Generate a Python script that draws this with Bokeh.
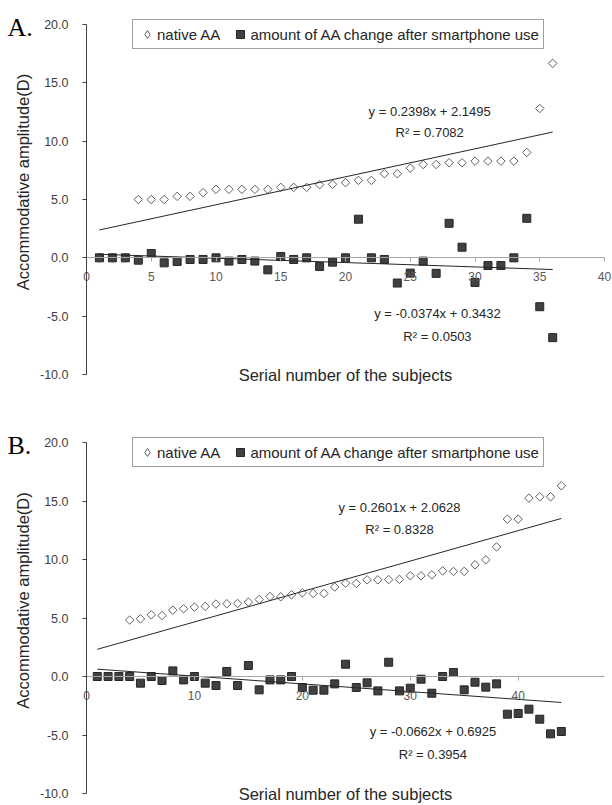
import numpy as np
from bokeh.plotting import figure
from bokeh.models import (Range1d, FixedTicker, NumeralTickFormatter, Label,
                          Legend, LegendItem)
from bokeh.layouts import column
from bokeh.embed import file_html
from bokeh.resources import INLINE

# ---------------- data ----------------
# Panel A (36 subjects)
a_subject = list(range(1, 37))
a_native = [0, 0, 0, 5.0, 5.0, 5.0, 5.27, 5.27, 5.59, 5.87, 5.87, 5.87, 5.87, 5.87,
            6.04, 6.04, 6.04, 6.27, 6.3, 6.44, 6.64, 6.64, 7.21, 7.21, 7.69, 8.0,
            8.0, 8.15, 8.15, 8.29, 8.29, 8.29, 8.29, 9.03, 12.8, 16.67]
a_change = [0, 0, 0, -0.2, 0.37, -0.43, -0.31, -0.14, -0.14, 0, -0.28, -0.14, -0.28,
            -1.03, 0.11, -0.14, 0, -0.74, -0.37, 0, 3.31, 0, -0.14, -2.16, -1.31,
            -0.28, -1.33, 2.96, 0.91, -2.11, -0.66, -0.66, 0, 3.39, -4.19, -6.84]
a_native_fit = [0.2398, 2.1495, 0.7082]     # slope, intercept, R^2
a_change_fit = [-0.0374, 0.3432, 0.0503]
a_x_ticks = [0, 5, 10, 15, 20, 25, 30, 35, 40]

# Panel B (44 subjects)
b_subject = list(range(1, 45))
b_native = [0, 0, 0, 4.82, 4.93, 5.27, 5.21, 5.67, 5.79, 5.93, 5.99, 6.19, 6.22, 6.24,
            6.36, 6.58, 6.84, 6.81, 6.98, 7.15, 7.10, 7.10, 7.65, 7.98, 7.95, 8.26,
            8.26, 8.28, 8.3, 8.61, 8.61, 8.69, 9.03, 8.98, 8.98, 9.55, 9.97, 11.08,
            13.45, 13.45, 15.25, 15.36, 15.36, 16.3]
b_change = [0, 0, 0, 0, -0.57, 0, -0.34, 0.48, -0.29, 0, -0.57, -0.77, 0.43, -0.77,
            0.94, -1.14, -0.29, -0.29, 0, -0.94, -1.17, -1.17, -0.63, 1.05, -0.94,
            -0.54, -1.23, 1.22, -1.23, -1.0, -0.23, -1.43, 0, 0.34, -1.14, -0.49,
            -0.91, -0.63, -3.22, -3.16, -2.79, -3.65, -4.9, -4.7]
b_native_fit = [0.2601, 2.0628, 0.8328]
b_change_fit = [-0.0662, 0.6925, 0.3954]
b_x_ticks = [0, 10, 20, 30, 40]

y_ticks = [-10, -5, 0, 5, 10, 15, 20]
y_min, y_max = -10, 20
legend_labels = ["native AA", "amount of AA change after smartphone use"]
x_title = "Serial number of the subjects"
y_title = "Accommodative amplitude(D)"

SANS = "Liberation Sans"
SERIF = "Liberation Serif"
W = 612
PX_LEFT, PX_RIGHT = 86, 604   # pixel columns of x = 0 and x = x_max


def eq_text(fit):
    slope, intercept, _ = fit
    sign = "+" if intercept >= 0 else "-"
    return f"y = {slope:.4f}x {sign} {abs(intercept):.4f}"


def r2_text(fit):
    return f"R\u00b2 = {fit[2]:.4f}"


def make_panel(tag, subj, native, change, native_fit, change_fit, x_max, x_ticks,
               native_eq_pos, change_eq_pos, height, px_top, px_bottom, legend_top):
    # ranges chosen so that the frame fills the whole canvas and the
    # axes (drawn at fixed locations) land where the original puts them
    xu = x_max / (PX_RIGHT - PX_LEFT)
    yu = (y_max - y_min) / (px_bottom - px_top)
    x_range = Range1d(-PX_LEFT * xu, x_max + (W - PX_RIGHT) * xu)
    y_range = Range1d(y_min - (height - px_bottom) * yu, y_max + px_top * yu)

    p = figure(width=W, height=height, x_range=x_range, y_range=y_range,
               output_backend="svg", toolbar_location=None,
               min_border=0, min_border_left=0, min_border_right=0,
               min_border_top=0, min_border_bottom=0)
    p.outline_line_color = None
    p.grid.visible = False

    # x axis crossing at y = 0
    xa = p.xaxis[0]
    xa.fixed_location = 0
    xa.bounds = (0, x_max)
    xa.ticker = FixedTicker(ticks=x_ticks)
    xa.axis_line_color = "#a6a6a6"
    xa.major_tick_line_color = "#a6a6a6"
    xa.major_tick_out = 4
    xa.major_tick_in = 0
    xa.minor_tick_line_color = None
    xa.major_label_text_font = SANS
    xa.major_label_text_font_size = "12px"
    xa.major_label_text_color = "#595959"
    xa.major_label_standoff = 10

    ya = p.yaxis[0]
    ya.fixed_location = 0
    ya.bounds = (y_min, y_max)
    ya.ticker = FixedTicker(ticks=y_ticks)
    ya.formatter = NumeralTickFormatter(format="0.0")
    ya.axis_line_color = "#404040"
    ya.major_tick_line_color = "#404040"
    ya.major_tick_out = 4
    ya.major_tick_in = 0
    ya.minor_tick_line_color = None
    ya.major_label_text_font = SANS
    ya.major_label_text_font_size = "12.5px"
    ya.major_label_text_color = "#404040"
    ya.major_label_standoff = 14

    p.scatter(subj, native, marker="square", angle=np.pi / 4, size=6,
              fill_color="white", line_color="#606060", line_width=1)
    r_change = p.scatter(subj, change, marker="square", size=8,
                         fill_color="#404040", line_color="#262626", line_width=1)
    # legend swatch for the diamond series (a single off-chart point)
    r_native_key = p.scatter([np.nan], [np.nan], marker="diamond", fill_color="white",
                             line_color="#606060", line_width=1)

    xs = np.array([min(subj), max(subj)], dtype=float)
    for fit in (native_fit, change_fit):
        p.line(xs, fit[0] * xs + fit[1], line_color="#262626", line_width=1)

    for fit, (ex, ey, ry) in ((native_fit, native_eq_pos), (change_fit, change_eq_pos)):
        p.add_layout(Label(x=ex, y=ey, text=eq_text(fit), text_align="center",
                           text_baseline="middle", text_font=SANS,
                           text_font_size="13px", text_color="#262626"))
        p.add_layout(Label(x=ex, y=ry, text=r2_text(fit), text_align="center",
                           text_baseline="middle", text_font=SANS,
                           text_font_size="13px", text_color="#262626"))

    # axis titles
    p.add_layout(Label(x=x_max / 2, y=y_min, text=x_title, text_align="center",
                       text_baseline="middle", text_font=SANS,
                       text_font_size="16.5px", text_color="#262626"))
    p.add_layout(Label(x=0, y=6.5, x_offset=-64, angle=np.pi / 2, text=y_title,
                       text_align="center", text_baseline="middle", text_font=SANS,
                       text_font_size="16.5px", text_color="#262626"))

    p.add_layout(Label(x=0, y=y_max, x_offset=-79, y_offset=-3, text=tag,
                       text_align="left", text_baseline="alphabetic",
                       text_font=SERIF, text_font_size="26px", text_color="black"))

    legend_h = 28
    legend = Legend(items=[LegendItem(label=legend_labels[0], renderers=[r_native_key]),
                           LegendItem(label=legend_labels[1], renderers=[r_change])],
                    location=(132, height - legend_top - legend_h),
                    orientation="horizontal", padding=4,
                    spacing=10, glyph_width=20, glyph_height=20, label_height=18,
                    label_standoff=0, label_text_font=SANS,
                    label_text_font_size="15px", label_text_color="#262626",
                    border_line_color="#404040", border_line_width=1,
                    background_fill_color="white", background_fill_alpha=1.0,
                    margin=0)
    p.add_layout(legend)
    return p


pA = make_panel("A.", a_subject, a_native, a_change, a_native_fit, a_change_fit,
                40, a_x_ticks, (26.5, 12.56, 10.77), (27.1, -4.75, -6.74),
                height=392, px_top=24, px_bottom=374, legend_top=21)
pB = make_panel("B.", b_subject, b_native, b_change, b_native_fit, b_change_fit,
                48, b_x_ticks, (29.0, 14.44, 12.6), (32.1, -4.70, -6.63),
                height=413, px_top=50, px_bottom=401, legend_top=47)

layout = column(pA, pB, spacing=0)
open("out.html", "w").write(file_html(layout, INLINE))
